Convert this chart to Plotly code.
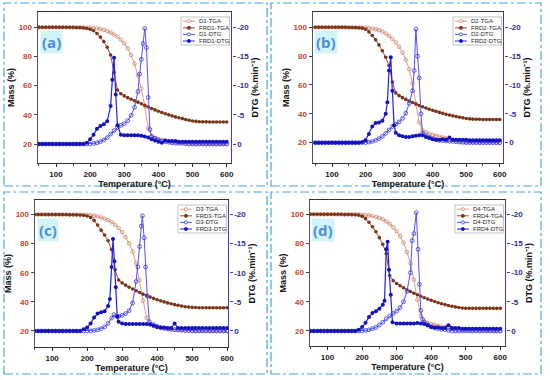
import plotly.graph_objects as go

W, H = 550, 380

# ---------------- data ----------------
T_TGA = list(range(50, 601, 10))

D1_TGA = [100, 100, 100, 100, 100, 100, 100, 100, 100, 99.9, 99.9, 99.9, 99.9, 99.8, 99.8,
          99.7, 99.5, 99.2, 98.8, 98.2, 97.4, 96.4, 95.1, 93.6, 91.6, 89, 85.5, 81, 75, 67, 58, 46, 31,
          25.5, 24.2, 23.4, 22.8, 22.3, 21.9, 21.6, 21.3, 21.1, 20.9, 20.7, 20.5, 20.4, 20.3, 20.2,
          20.2, 20.1, 20.1, 20.1, 20, 20, 20, 20]
FRD1_TGA = [100, 100, 100, 100, 100, 100, 100, 100, 100, 100, 100,
            99.9, 99.8, 99.6, 99.3, 98.7, 97.6, 95.8, 93.3, 90.2, 86.3, 81, 69, 57, 54.5, 53, 51.8,
            50.7, 49.7, 48.7, 47.6, 46.5, 45.4, 44.4, 43.4, 42.5, 41.6, 40.8, 40, 39.3, 38.6, 38,
            37.4, 36.8, 36.3, 35.8, 35.5, 35.3, 35.2, 35.2, 35.1, 35.1, 35.1, 35.1, 35.1, 35.1]
D2_TGA = [100, 100, 100, 100, 100, 100, 100, 100, 100, 100, 99.9, 99.9, 99.9, 99.8, 99.8,
          99.7, 99.5, 99.2, 98.7, 98, 97, 95.7, 94, 92, 89.5, 86.5, 82.5, 77.5, 71, 61, 47, 34, 28.5,
          27.2, 26.2, 25.4, 24.8, 24.2, 23.6, 23, 22.5, 22, 21.5, 21.1, 20.8, 20.5, 20.4, 20.3,
          20.2, 20.2, 20.1, 20.1, 20.1, 20, 20, 20]
FRD2_TGA = [100, 100, 100, 100, 100, 100, 100, 100, 100, 100, 99.9,
            99.9, 99.8, 99.7, 99.4, 98.6, 96.8, 94.3, 91.3, 87.8, 83.7, 79.2, 73.5, 62, 54.5, 52.6,
            51.2, 50, 48.9, 47.8, 46.8, 45.8, 44.9, 44, 43.2, 42.4, 41.7, 41, 40.3, 39.7, 39.1, 38.6,
            38.1, 37.6, 37.2, 36.8, 36.5, 36.3, 36.2, 36.2, 36.1, 36.1, 36.1, 36.1, 36.1, 36.1]
D3_TGA = [100, 100, 100, 100, 100, 100, 100, 100, 100, 100, 99.9, 99.9, 99.9, 99.9, 99.8,
          99.7, 99.5, 99.2, 98.7, 98, 97.2, 96.1, 94.7, 93, 90.8, 88, 84.5, 80.3, 74.5, 66.5, 55, 41,
          29, 24.6, 23.4, 22.6, 22, 21.6, 21.2, 20.9, 20.7, 20.5, 20.4, 20.3, 20.2, 20.2, 20.1,
          20.1, 20.1, 20.1, 20, 20, 20, 20, 20, 20]
FRD3_TGA = [100, 100, 100, 100, 100, 100, 100, 100, 100, 100, 99.9,
            99.9, 99.8, 99.7, 99.5, 99, 98, 96, 92.8, 89.3, 86, 82, 76, 62, 55, 53, 51.5, 50.1,
            48.8, 47.6, 46.4, 45.3, 44.3, 43.3, 42.4, 41.5, 40.7, 40, 39.3, 38.7, 38.1, 37.6, 37.1,
            36.7, 36.4, 36.2, 36.1, 36, 36, 36, 36, 36, 36, 36, 36, 36]
D4_TGA = [100, 100, 100, 100, 100, 100, 100, 100, 100, 100, 99.9, 99.9, 99.9, 99.9, 99.8,
          99.7, 99.5, 99.2, 98.8, 98.3, 97.5, 96.5, 95.1, 93.4, 91.1, 88.4, 85, 80.6, 74.2, 66.2,
          55.2, 41.5, 30.2, 26.6, 25.5, 24.8, 24.2, 23.6, 23.1, 22.6, 22.2, 21.8, 21.4, 21.1, 20.8,
          20.6, 20.5, 20.4, 20.3, 20.3, 20.2, 20.2, 20.1, 20.1, 20.1, 20]
FRD4_TGA = [100, 100, 100, 100, 100, 100, 100, 100, 100, 100, 99.9,
            99.9, 99.8, 99.7, 99.4, 98.6, 97, 94.5, 91.5, 88, 84, 79.5, 73, 58, 54.5, 52.5, 51,
            49.6, 48.3, 47.1, 45.9, 44.8, 43.8, 42.8, 41.9, 41, 40.2, 39.4, 38.7, 38.1, 37.5, 37,
            36.5, 36.1, 35.8, 35.6, 35.5, 35.5, 35.5, 35.5, 35.5, 35.5, 35.5, 35.5, 35.5, 35.5]

D1_DTG_T = list(range(50, 341, 10)) + [345, 350, 355, 360, 365, 370, 375] + list(range(380, 601, 10))
D1_DTG = [0] * 16 + [-0.1, -0.2, -0.4, -0.7, -1.1, -1.7, -2.3, -2.8, -3.2, -3.5, -4, -4.9, -6.3, -9,
                     -12, -14.5, -17.2, -19.8, -16.5, -8, -2.5,
                     -1.3, -1, -0.7, -0.5, -0.4, -0.3, -0.2, -0.15, -0.1, -0.1, -0.05] + [0] * 11 + [0]
FRD1_DTG_T = list(range(50, 261, 10)) + [265, 270, 275, 280] + list(range(290, 601, 10))
FRD1_DTG = [0] * 14 + [-0.2, -0.8, -1.6, -2.6, -3.1, -3.4, -3.9, -6.5, -11, -14.8, -8.5, -3.2,
                       -1.6, -1.5, -1.5, -1.5, -1.5, -1.5, -1.4, -1.3, -1.1, -0.8, -0.6, -0.4, -0.2,
                       -0.6, -0.5, -0.5, -0.5, -0.4, -0.4, -0.4, -0.4] + [-0.4] * 11

D2_DTG_T = list(range(50, 341, 10)) + [345, 350, 355, 360, 365, 370] + list(range(380, 601, 10))
D2_DTG = [0] * 16 + [-0.1, -0.2, -0.4, -0.7, -1.1, -1.6, -2.2, -2.8, -3.2, -3.6, -4.2, -5.1, -6.8, -9,
                     -12.5, -19.7, -15, -11.2, -5, -1.6,
                     -1.2, -0.9, -0.7, -0.5, -0.4, -0.35, -0.3, -0.25, -0.2, -0.15, -0.1, -0.05] + [0] * 11
FRD2_DTG_T = list(range(50, 261, 10)) + [265, 270, 275, 280, 285] + list(range(290, 601, 10))
FRD2_DTG = [0] * 14 + [-0.1, -0.4, -1.5, -2.8, -3.4, -3.5, -3.8, -5, -7, -12.5, -14.8, -9, -3,
                       -1.7, -1.3, -1.1, -1.0, -1.0, -1.1, -1.2, -1.3, -1.3, -1.0, -0.8, -0.6, -0.5,
                       -0.5, -0.6, -0.5, -0.9, -0.5, -0.5, -0.5, -0.5, -0.5] + [-0.4] * 10

D3_DTG_T = list(range(50, 271, 10)) + [277, 285] + list(range(290, 341, 10)) + \
    [345, 350, 355, 358, 363, 367, 372, 378] + list(range(390, 601, 10))
D3_DTG = [0] * 17 + [-0.1, -0.2, -0.4, -0.7, -1.3, -2.2, -2.8, -2.5, -2.5, -2.7, -3, -3.5, -4.8,
                     -8.5, -11, -14.5, -18, -19.8, -16, -11, -6, -1.6,
                     -1.1, -0.8, -0.6, -0.5, -0.4, -0.3, -0.25, -0.2, -0.15, -0.1, -0.05] + [0] * 11
FRD3_DTG_T = list(range(50, 261, 10)) + [265, 270, 274, 278, 282, 286] + list(range(290, 601, 10))
FRD3_DTG = [0] * 14 + [-0.3, -0.6, -1.3, -2.3, -3, -3.2, -3.4, -4.3, -5.5, -11, -15.8, -12, -7.5,
                       -2.5, -1.6, -1.3, -1.2, -1.2, -1.2, -1.2, -1.2, -1.2, -1.2, -1.1, -0.9, -0.7,
                       -0.6, -0.6, -0.5, -0.5, -1.3, -0.5, -0.5, -0.5, -0.5, -0.5] + [-0.5] * 10

D4_DTG_T = list(range(50, 341, 10)) + [345, 350, 357, 362, 366, 370, 375] + list(range(380, 601, 10))
D4_DTG = [0] * 16 + [-0.1, -0.2, -0.4, -0.6, -1, -1.5, -2.1, -2.6, -3, -3.4, -4, -5, -6.8, -10,
                     -15.5, -16.7, -20.3, -14, -8, -3.5, -2,
                     -1.5, -1, -0.7, -0.5, -0.4, -0.3, -0.2, -0.1] + [0] * 15
FRD4_DTG_T = list(range(50, 261, 10)) + [265, 270, 274, 278, 283, 288] + list(range(300, 601, 10))
FRD4_DTG = [0] * 14 + [-0.2, -0.7, -1.4, -2.4, -3.1, -3.4, -3.8, -4.5, -5.2, -14, -15.3, -10.5,
                       -6.2, -1.5, -1.3, -1.3, -1.3, -1.3, -1.3, -1.3, -1.35, -1.3, -1.2, -1.0, -0.7,
                       -0.6, -0.6, -0.5, -0.5, -1.0, -0.5, -0.5, -0.5, -0.4, -0.4] + [-0.4] * 10

X_TICKS = [100, 200, 300, 400, 500, 600]
MASS_TICKS = [20, 40, 60, 80, 100]
DTG_TICKS = [-20, -15, -10, -5, 0]
DTG_TICKTEXT = ["-20", "-15", "-10", "-5", "0"]

# ---------------- style ----------------
C_D_TGA = "#E59C86"
C_D_TGA_M = "#C9866C"
C_FRD_TGA = "#B4432A"
C_FRD_TGA_M = "#7A3519"
C_D_DTG = "#5050FF"
C_D_DTG_M = "#3535DD"
C_FRD_DTG = "#2020EE"
C_FRD_DTG_M = "#1212BE"
C_LEFT_TICK = "#C4452C"
C_RIGHT_TICK = "#2B2B9C"
C_RIGHT_LINE = "#3C3CD0"
FONT = "Liberation Sans"

panels = [
    dict(tag="(a)", n="1", l=38, r=234, t=12, b=163, xr=[46, 614], yr=[7, 110.5],
         d_tga=D1_TGA, f_tga=FRD1_TGA, d_t=D1_DTG_T, d_v=D1_DTG, f_t=FRD1_DTG_T, f_v=FRD1_DTG,
         frame=[4, 3, 270, 186]),
    dict(tag="(b)", n="2", l=316, r=509, t=12, b=163, xr=[42, 611], yr=[5.9, 110.6],
         d_tga=D2_TGA, f_tga=FRD2_TGA, d_t=D2_DTG_T, d_v=D2_DTG, f_t=FRD2_DTG_T, f_v=FRD2_DTG,
         frame=[274, 3, 547, 186]),
    dict(tag="(c)", n="3", l=35, r=231, t=200, b=347, xr=[50, 604], yr=[9, 110],
         d_tga=D3_TGA, f_tga=FRD3_TGA, d_t=D3_DTG_T, d_v=D3_DTG, f_t=FRD3_DTG_T, f_v=FRD3_DTG,
         frame=[4, 192, 270, 374]),
    dict(tag="(d)", n="4", l=313, r=511, t=200, b=346, xr=[48, 615], yr=[9.7, 109.8],
         d_tga=D4_TGA, f_tga=FRD4_TGA, d_t=D4_DTG_T, d_v=D4_DTG, f_t=FRD4_DTG_T, f_v=FRD4_DTG,
         frame=[274, 192, 547, 374]),
]


def PX(x):
    return x / W


def PY(y):
    return 1 - y / H


fig = go.Figure()
layout = dict(width=W, height=H, margin=dict(l=0, r=0, t=0, b=0), showlegend=False,
              paper_bgcolor="white", plot_bgcolor="white",
              font=dict(family=FONT, color="#111"))
shapes = []
annotations = []

for i, p in enumerate(panels):
    xk = "x" if i == 0 else f"x{i + 1}"
    ymk = "y" if i == 0 else f"y{2 * i + 1}"
    ydk = f"y{2 * i + 2}"
    xname = "xaxis" if i == 0 else f"xaxis{i + 1}"
    ymname = "yaxis" if i == 0 else f"yaxis{2 * i + 1}"
    ydname = f"yaxis{2 * i + 2}"

    # traces
    fig.add_trace(go.Scatter(x=T_TGA, y=p["d_tga"], xaxis=xk, yaxis=ymk, mode="lines+markers",
                             name=f"D{p['n']}-TGA", line=dict(color=C_D_TGA, width=1),
                             marker=dict(symbol="circle-open", size=3.6, color=C_D_TGA_M,
                                         line=dict(width=0.8, color=C_D_TGA_M))))
    fig.add_trace(go.Scatter(x=T_TGA, y=p["f_tga"], xaxis=xk, yaxis=ymk, mode="lines+markers",
                             name=f"FRD{p['n']}-TGA", line=dict(color=C_FRD_TGA, width=1),
                             marker=dict(symbol="circle", size=3.6, color=C_FRD_TGA_M)))
    fig.add_trace(go.Scatter(x=p["d_t"], y=p["d_v"], xaxis=xk, yaxis=ydk, mode="lines+markers",
                             name=f"D{p['n']}-DTG", line=dict(color=C_D_DTG, width=1),
                             marker=dict(symbol="circle-open", size=3.8, color=C_D_DTG_M,
                                         line=dict(width=0.8, color=C_D_DTG_M))))
    fig.add_trace(go.Scatter(x=p["f_t"], y=p["f_v"], xaxis=xk, yaxis=ydk, mode="lines+markers",
                             name=f"FRD{p['n']}-DTG", line=dict(color=C_FRD_DTG, width=1.2),
                             marker=dict(symbol="circle", size=4, color=C_FRD_DTG_M)))

    yr = p["yr"]
    y2r = [-20 + (100 - yr[0]) / 4, -20 + (100 - yr[1]) / 4]

    layout[xname] = dict(domain=[PX(p["l"]), PX(p["r"])], range=p["xr"], anchor=ymk,
                         tickvals=X_TICKS, ticks="outside", ticklen=3, tickwidth=1,
                         tickcolor="#222", showline=True, linecolor="#333", linewidth=1,
                         mirror=True, showgrid=False, zeroline=False,
                         minor=dict(dtick=50, tick0=50, ticks="outside", ticklen=2, tickcolor="#444"),
                         tickfont=dict(size=8, family=FONT, color="#1a1a1a", weight="bold"),
                         title=dict(text="Temperature (°C)", standoff=0,
                                    font=dict(size=9, family=FONT, color="#111", weight="bold")))
    layout[ymname] = dict(domain=[PY(p["b"]), PY(p["t"])], range=yr, anchor=xk,
                          tickvals=MASS_TICKS, ticks="outside", ticklen=3, tickwidth=1,
                          tickcolor="#444", showline=True, linecolor="#555", linewidth=1,
                          showgrid=False, zeroline=False,
                          tickfont=dict(size=8, family=FONT, color=C_LEFT_TICK, weight="bold"),
                          title=dict(text="Mass (%)", standoff=2,
                                     font=dict(size=9, family=FONT, color="#111", weight="bold")))
    layout[ydname] = dict(domain=[PY(p["b"]), PY(p["t"])], range=y2r, anchor=xk, overlaying=ymk,
                          side="right", tickvals=DTG_TICKS, ticktext=DTG_TICKTEXT,
                          ticks="outside", ticklen=3, tickwidth=1, tickcolor=C_RIGHT_LINE,
                          showline=True, linecolor=C_RIGHT_LINE, linewidth=1.2,
                          showgrid=False, zeroline=False,
                          tickfont=dict(size=8, family=FONT, color=C_RIGHT_TICK, weight="bold"),
                          title=dict(text="DTG (%.min⁻¹)", standoff=3,
                                     font=dict(size=9, family=FONT, color="#111", weight="bold")))

    # panel frame (dash-dot)
    fx0, fy0, fx1, fy1 = p["frame"]
    shapes.append(dict(type="rect", xref="paper", yref="paper", x0=PX(fx0), x1=PX(fx1),
                       y0=PY(fy1), y1=PY(fy0), line=dict(color="#44A6E0", width=1.2, dash="dashdot")))

    # panel tag
    annotations.append(dict(xref="paper", yref="paper", x=PX(p["l"] + 14), y=PY(p["t"] + 30),
                            text=f"<b>{p['tag']}</b>", showarrow=False, xanchor="center",
                            yanchor="middle", bgcolor="#D3F3FA", borderpad=1,
                            font=dict(size=15, family="Open Sans", color="#4A8ED8")))

    # manual legend
    bx1 = p["r"] - 2
    bx0 = bx1 - 49
    by0 = p["t"] + 5
    by1 = by0 + 28
    shapes.append(dict(type="rect", xref="paper", yref="paper", x0=PX(bx0), x1=PX(bx1),
                       y0=PY(by1), y1=PY(by0), line=dict(color="#9a9a9a", width=0.6),
                       fillcolor="white", layer="above"))
    entries = [
        (f"D{p['n']}-TGA", C_D_TGA, C_D_TGA_M, False),
        (f"FRD{p['n']}-TGA", C_FRD_TGA, C_FRD_TGA_M, True),
        (f"D{p['n']}-DTG", C_D_DTG, C_D_DTG_M, False),
        (f"FRD{p['n']}-DTG", C_FRD_DTG, C_FRD_DTG_M, True),
    ]
    for k, (txt, lc, mc, filled) in enumerate(entries):
        yy = by0 + 4.2 + k * 6.6
        shapes.append(dict(type="line", xref="paper", yref="paper", x0=PX(bx0 + 2), x1=PX(bx0 + 14),
                           y0=PY(yy), y1=PY(yy), line=dict(color=lc, width=1), layer="above"))
        rr = 1.6
        shapes.append(dict(type="circle", xref="paper", yref="paper",
                           x0=PX(bx0 + 8 - rr), x1=PX(bx0 + 8 + rr), y0=PY(yy + rr), y1=PY(yy - rr),
                           line=dict(color=mc, width=0.8),
                           fillcolor=mc if filled else "white", layer="above"))
        annotations.append(dict(xref="paper", yref="paper", x=PX(bx0 + 16), y=PY(yy),
                                text=txt, showarrow=False, xanchor="left", yanchor="middle",
                                font=dict(size=6, family=FONT, color="#222")))

layout["shapes"] = shapes
layout["annotations"] = annotations
fig.update_layout(**layout)
fig.write_html("out.html", config={"displayModeBar": False},
               post_script="document.body.style.margin='0';document.body.style.overflow='hidden';")
